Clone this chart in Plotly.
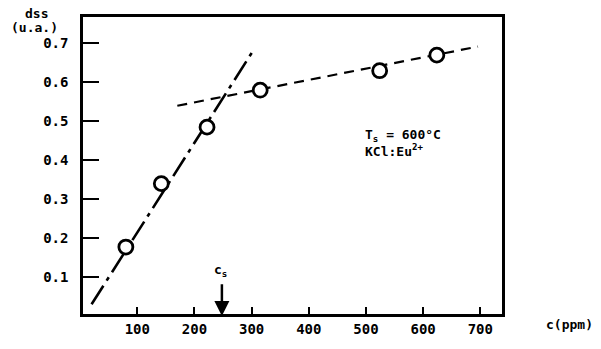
import plotly.graph_objects as go

# Measured points: concentration (ppm) vs dss (arbitrary units)
conc_ppm = [80, 142, 222, 315, 524, 624]
dss_values = [0.177, 0.34, 0.485, 0.58, 0.63, 0.67]

# Fitted straight lines for the two regimes
steep_x = [20, 302]
steep_y = [0.03, 0.68]
flat_x = [170, 696]
flat_y = [0.54, 0.692]

# Saturation concentration marked on the axis
cs_value = 248

x_ticks = [100, 200, 300, 400, 500, 600, 700]
y_ticks = [0.1, 0.2, 0.3, 0.4, 0.5, 0.6, 0.7]

FONT = "DejaVu Sans Mono"

fig = go.Figure()

fig.add_trace(go.Scatter(
    x=steep_x, y=steep_y, mode="lines",
    line=dict(color="black", width=2.6, dash="22px,6px,4px,6px"),
    hoverinfo="skip", showlegend=False,
))
fig.add_trace(go.Scatter(
    x=flat_x, y=flat_y, mode="lines",
    line=dict(color="black", width=2.2, dash="10px,7px"),
    hoverinfo="skip", showlegend=False,
))
fig.add_trace(go.Scatter(
    x=conc_ppm, y=dss_values, mode="markers",
    marker=dict(symbol="circle", size=14, color="white",
                line=dict(color="black", width=2.8)),
    showlegend=False,
))

tick_font = dict(family=FONT, size=14, color="black", weight="bold")

fig.update_layout(
    width=601, height=349,
    margin=dict(l=83, r=99, t=17, b=18),
    paper_bgcolor="white", plot_bgcolor="white",
    font=dict(family=FONT, color="black", size=13),
    xaxis=dict(
        range=[5, 738], tickvals=x_ticks,
        ticktext=[str(v) for v in x_ticks],
        ticks="inside", ticklen=7, tickwidth=2, tickcolor="black",
        showline=True, linecolor="black", linewidth=2.5, mirror=True,
        showgrid=False, zeroline=False,
        tickfont=tick_font, ticklabelstandoff=0,
    ),
    yaxis=dict(
        range=[0.005, 0.768], tickvals=y_ticks,
        ticktext=[f"{v:.1f}" for v in y_ticks],
        ticks="inside", ticklen=16, tickwidth=2, tickcolor="black",
        showline=True, linecolor="black", linewidth=2.5, mirror=True,
        showgrid=False, zeroline=False,
        tickfont=tick_font, ticklabelstandoff=9,
    ),
)

bold = dict(family=FONT, size=13, color="black", weight="bold")

# Axis titles
fig.add_annotation(xref="paper", yref="paper", x=-0.112, y=1.013,
                   text="dss", showarrow=False, font=bold,
                   xanchor="center", yanchor="middle")
fig.add_annotation(xref="paper", yref="paper", x=-0.115, y=0.963,
                   text="(u.a.)", showarrow=False, font=bold,
                   xanchor="center", yanchor="middle")
fig.add_annotation(xref="paper", yref="paper", x=1.162, y=-0.035,
                   text="c(ppm)", showarrow=False, font=bold,
                   xanchor="center", yanchor="middle")

# Sample conditions
fig.add_annotation(xref="x", yref="y", x=565, y=0.445,
                   text="T<sub>s</sub> = 600°C<br>KCl:Eu<sup>2+</sup>",
                   showarrow=False, font=bold, align="left",
                   xanchor="center", yanchor="middle")

# Arrow marking c_s
fig.add_annotation(xref="x", yref="y", x=cs_value, y=0.0,
                   axref="x", ayref="y", ax=cs_value, ay=0.085,
                   text="", showarrow=True, arrowhead=2, arrowsize=1.2,
                   arrowwidth=2.5, arrowcolor="black")
fig.add_annotation(xref="x", yref="y", x=cs_value - 3, y=0.118,
                   text="c<sub>s</sub>", showarrow=False, font=bold,
                   xanchor="center", yanchor="middle")

fig.write_html("out.html")
